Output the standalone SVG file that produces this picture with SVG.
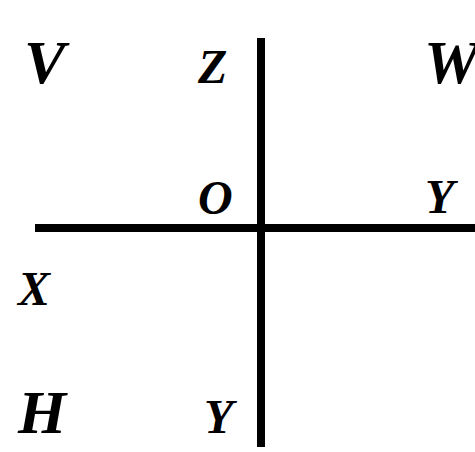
<svg xmlns="http://www.w3.org/2000/svg" width="475" height="452" viewBox="0 0 475 452">
<style>
.lb{font-family:"Liberation Serif","Times New Roman",serif;font-weight:bold;font-style:italic;fill:#000}
.big{font-size:62px}
.sm{font-size:48px}
.ax{stroke:#000;stroke-width:8;fill:none}
</style>
<rect width="475" height="452" fill="#fff"/>
<g id="axes">
<line class="ax" x1="261" y1="38" x2="261" y2="447"/>
<line class="ax" x1="35" y1="228" x2="475" y2="228"/>
</g>
<g id="labels">
<text class="lb big" x="24" y="83">V</text>
<text class="lb sm" x="198" y="83">Z</text>
<text class="lb big" x="424" y="83">W</text>
<text class="lb sm" x="198" y="214">O</text>
<text class="lb sm" x="425" y="213">Y</text>
<text class="lb sm" x="18" y="305">X</text>
<text class="lb big" x="18" y="433">H</text>
<text class="lb sm" x="204" y="433">Y</text>
</g>
</svg>
